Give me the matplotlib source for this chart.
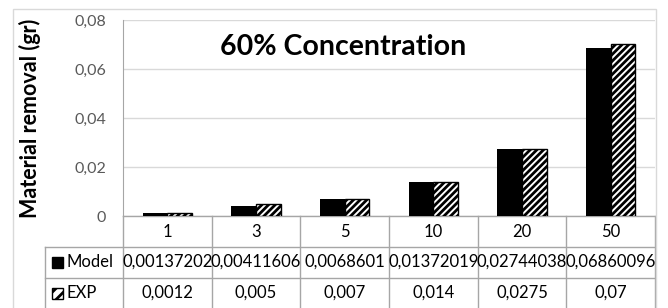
import matplotlib.pyplot as plt
import matplotlib.transforms as mtransforms
from matplotlib.patches import Rectangle

plt.rcParams['font.family'] = ['Lato', 'DejaVu Sans']
plt.rcParams['hatch.linewidth'] = 2.0

# Data
categories = ['1', '3', '5', '10', '20', '50']
model_vals = [0.00137202, 0.00411606, 0.0068601, 0.01372019, 0.02744038, 0.06860096]
exp_vals = [0.0012, 0.005, 0.007, 0.014, 0.0275, 0.07]
series_names = ['Model', 'EXP']
y_ticks = [0, 0.02, 0.04, 0.06, 0.08]


def fmt(v):
    return str(v).replace('.', ',') if v != 0 else '0'


fig = plt.figure(figsize=(6.68, 3.08), dpi=100)
ax = fig.add_axes([123 / 668, 1 - 216 / 308, 532 / 668, 196 / 308])

# outer chart border
fig.patches.append(Rectangle((13 / 668, -0.1), 643 / 668, 1.1 - 9 / 308,
                             transform=fig.transFigure, fill=False,
                             edgecolor='#d9d9d9', linewidth=1))

x = list(range(len(categories)))
w = 0.28
ax.bar([i - w / 2 for i in x], model_vals, width=w, color='black', zorder=3)
ax.bar([i + w / 2 for i in x], exp_vals, width=w, color='white',
       edgecolor='black', hatch='/////', linewidth=1, zorder=3)

ax.set_xlim(-0.5, len(categories) - 0.5)
ax.set_ylim(0, 0.08)
ax.set_yticks(y_ticks)
ax.set_yticklabels([fmt(t) for t in y_ticks], color='#595959', fontsize=11.5)
ax.tick_params(axis='y', length=0, pad=12)
ax.set_xticks([])
ax.grid(axis='y', color='#d9d9d9', linewidth=1, zorder=0)
for s in ['top', 'right', 'bottom']:
    ax.spines[s].set_visible(False)
ax.spines['left'].set_color('#a6a6a6')

ax.set_ylabel('Material removal (gr)', fontsize=15.5, fontweight='bold')
ax.yaxis.set_label_coords(-0.155, 0.5)
ax.text(0.4135, 0.862, '60% Concentration', transform=ax.transAxes,
        ha='center', va='center', fontsize=20.5, fontweight='bold')

# data table under the axis
tr = mtransforms.blended_transform_factory(ax.transData, ax.transAxes)
line_kw = dict(color='#a6a6a6', linewidth=1, transform=tr, clip_on=False)
left = -0.5 + (45 - 123) / (532 / 6)
right = len(categories) - 0.5
r1, r2, r3 = -31 / 196, -62 / 196, -100 / 196
ax.plot([-0.5, right], [0, 0], **line_kw)
for yy in [r1, r2]:
    ax.plot([left, right], [yy, yy], **line_kw)
for i in range(len(categories) + 1):
    ax.plot([i - 0.5, i - 0.5], [0, r3], **line_kw)
ax.plot([left, left], [r1, r3], **line_kw)

fs = 12
y_cat = -16 / 196
y_mod = -46 / 196
y_exp = -77 / 196
for i, c in enumerate(categories):
    ax.text(i, y_cat, c, transform=tr, ha='center', va='center', fontsize=fs)
    ax.text(i, y_mod, fmt(model_vals[i]), transform=tr, ha='center', va='center', fontsize=fs)
    ax.text(i, y_exp, fmt(exp_vals[i]), transform=tr, ha='center', va='center', fontsize=fs)

# legend keys in the table
kh = 11 / 196
kw = 11 / (532 / 6)
kx = -0.5 + (52 - 123) / (532 / 6)
tx = -0.5 + (67 - 123) / (532 / 6)
ax.add_patch(Rectangle((kx, y_mod - kh / 2), kw, kh, transform=tr,
                       color='black', clip_on=False))
ax.add_patch(Rectangle((kx, y_exp - kh / 2), kw, kh, transform=tr,
                       facecolor='white', edgecolor='black', hatch='///',
                       linewidth=1, clip_on=False))
ax.text(tx, y_mod, series_names[0], transform=tr, ha='left', va='center', fontsize=fs)
ax.text(tx, y_exp, series_names[1], transform=tr, ha='left', va='center', fontsize=fs)

fig.savefig('out.png', dpi=100)
